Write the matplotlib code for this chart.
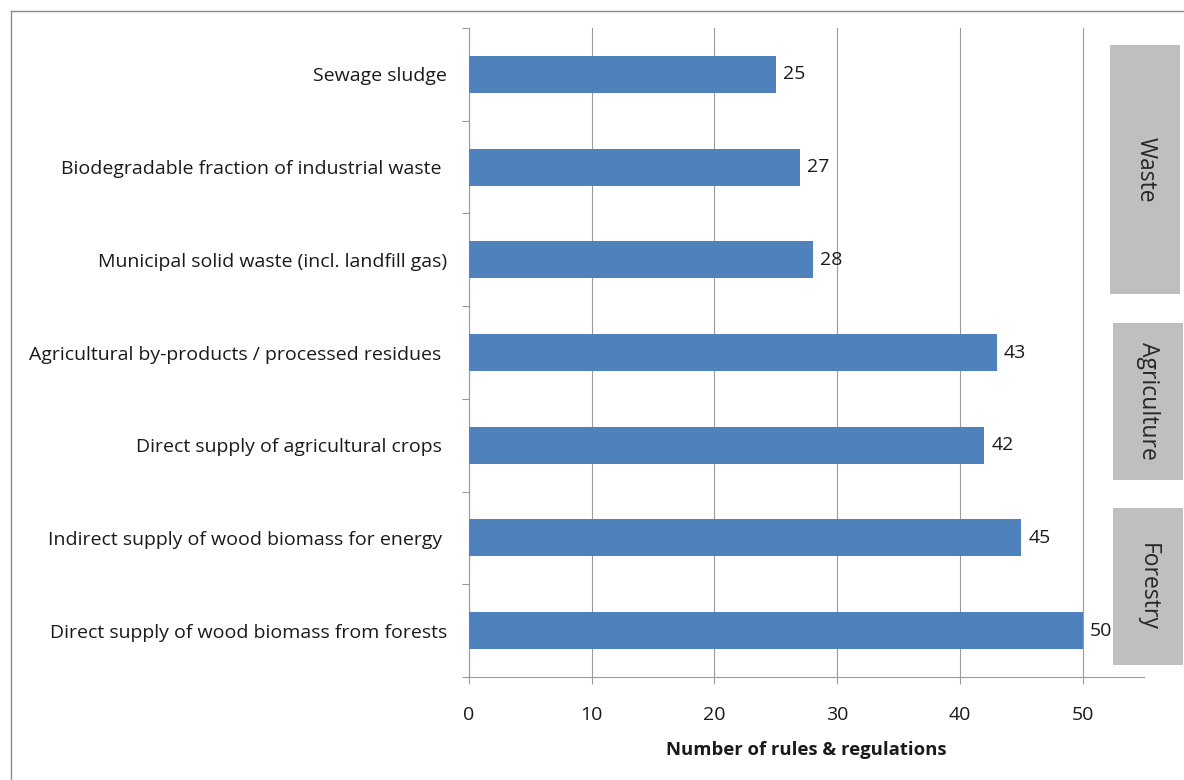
import matplotlib
matplotlib.use("Agg")
import matplotlib.pyplot as plt
import matplotlib.transforms as mtransforms
from matplotlib.patches import Rectangle
from matplotlib.lines import Line2D
import numpy as np

plt.rcParams['font.family'] = ['Open Sans', 'DejaVu Sans']

# Data
categories = [
    "Sewage sludge",
    "Biodegradable fraction of industrial waste ",
    "Municipal solid waste (incl. landfill gas)",
    "Agricultural by-products / processed residues ",
    "Direct supply of agricultural crops ",
    "Indirect supply of wood biomass for energy ",
    "Direct supply of wood biomass from forests",
]
counts = [25, 27, 28, 43, 42, 45, 50]
groups = ["Waste", "Agriculture", "Forestry"]
group_sizes = [3, 2, 2]
x_ticks = [0, 10, 20, 30, 40, 50]

bar_color = "#4f81bd"
grid_color = "#9a9a9a"
box_color = "#bfbfbf"
text_color = "#1a1a1a"
fs = 14

W, H = 1184, 780
fig = plt.figure(figsize=(W / 100, H / 100), dpi=100)
ax = fig.add_axes([469 / W, 1 - 677 / H, (1144 - 469) / W, (677 - 28) / H])

y = np.arange(len(categories))
ax.barh(y, counts, height=0.4, color=bar_color, zorder=3)

ax.set_xlim(0, 55)
ax.set_ylim(len(categories) - 0.5, -0.5)

# value labels
for yi, v in zip(y, counts):
    ax.annotate(str(v), xy=(v, yi), xytext=(5, 0), textcoords="offset points",
                va="center", ha="left", fontsize=fs, color=text_color, zorder=4)

# axes styling
ax.set_xticks(x_ticks)
ax.set_yticks(y)
ax.set_yticklabels(categories)
ax.set_yticks(np.arange(len(categories) + 1) - 0.5, minor=True)
ax.tick_params(axis="y", which="major", length=0, pad=16, labelsize=fs, labelcolor=text_color)
ax.tick_params(axis="y", which="minor", length=5, color=grid_color, width=0.8)
ax.tick_params(axis="x", which="major", length=5, color=grid_color, width=0.8, pad=16,
               labelsize=fs, labelcolor=text_color)
ax.xaxis.grid(True, color=grid_color, linewidth=0.8, zorder=0)
ax.set_axisbelow(True)
for side in ("top", "right"):
    ax.spines[side].set_visible(False)
for side in ("left", "bottom"):
    ax.spines[side].set_color(grid_color)
    ax.spines[side].set_linewidth(0.8)

ax.set_xlabel("Number of rules & regulations", fontsize=13.3, fontweight="bold",
              color=text_color, labelpad=12)

# group boxes on the right
trans = mtransforms.blended_transform_factory(ax.transAxes, ax.transData)
start = 0
for i, (name, size) in enumerate(zip(groups, group_sizes)):
    top = start - 0.5 + 0.18
    bottom = start + size - 0.5 - 0.13
    x0 = 0.950 if i == 0 else 0.954
    rect = Rectangle((x0, top), 0.104, bottom - top, transform=trans,
                     facecolor=box_color, edgecolor="none", clip_on=False, zorder=5)
    ax.add_patch(rect)
    ax.text(x0 + 0.052, (top + bottom) / 2, name, transform=trans, rotation=-90,
            ha="center", va="center", fontsize=16.5, color="#262626", zorder=6,
            clip_on=False)
    start += size

# outer frame (left and top edges)
frame_color = "#8c8c8c"
fig.add_artist(Line2D([11 / W, 11 / W], [0, 1 - 11 / H], transform=fig.transFigure,
                      color=frame_color, linewidth=1.0))
fig.add_artist(Line2D([11 / W, 1], [1 - 11 / H, 1 - 11 / H], transform=fig.transFigure,
                      color=frame_color, linewidth=1.0))

fig.savefig("out.png", dpi=100)
